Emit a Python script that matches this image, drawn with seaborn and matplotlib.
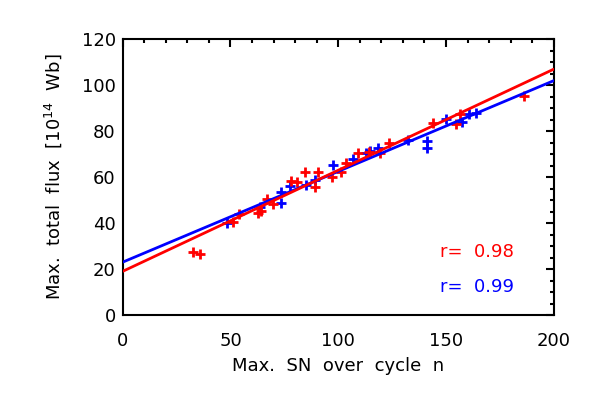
import numpy as np
import pandas as pd
import matplotlib
matplotlib.use("Agg")
import matplotlib.pyplot as plt
import seaborn as sns
from matplotlib.ticker import MultipleLocator

# Red series (max SN, max total flux)
red_sn = [32.5, 35.8, 51, 54, 63, 64.4, 67, 69.8, 78.3, 81, 84.5, 89.2, 90.7,
          96.9, 101.5, 103.8, 109.2, 114.3, 119.3, 123.5, 143.8, 154.8, 156.6, 186]
red_flux = [27.3, 26.4, 40.6, 44, 44.5, 45.3, 50.7, 48.5, 58.4, 58, 62.3, 55.8, 62.3,
            60.1, 62.3, 66, 70.3, 71, 70.5, 74.9, 83.6, 83.2, 87.3, 95.2]

# Blue series
blue_sn = [48.5, 63.6, 73.4, 73.5, 77.6, 85, 89.2, 97.6, 107, 112.8, 114.7, 118.5,
           132.4, 141.4, 141.4, 150, 157.3, 160.5, 164]
blue_flux = [39.9, 47, 48.6, 53.6, 56, 56.5, 58.7, 65.5, 68, 70.3, 71.3, 72.5,
             76, 75.8, 72.5, 85.2, 84, 87.7, 88]

# Linear fit parameters (intercept, slope)
red_fit = (19.0, 0.44)
blue_fit = (23.0, 0.395)
fit_range = [0, 200]

r_labels = ["r=  0.98", "r=  0.99"]

sns.set_style("white")
plt.rcParams['font.family'] = ['DejaVu Sans']
plt.rcParams['text.color'] = 'black'
plt.rcParams['axes.labelcolor'] = 'black'

fig = plt.figure(figsize=(5.91, 3.93), dpi=100)
ax = fig.add_axes([0.2076, 0.1985, 0.937 - 0.2076, 0.9 - 0.1985])

RED = "#ff0000"
BLUE = "#0000ff"
FS = 13

df_red = pd.DataFrame({"sn": red_sn, "flux": red_flux})
df_blue = pd.DataFrame({"sn": blue_sn, "flux": blue_flux})

sns.scatterplot(data=df_blue, x="sn", y="flux", marker="+", s=60, color=BLUE,
                linewidth=2, ax=ax, zorder=3)
sns.scatterplot(data=df_red, x="sn", y="flux", marker="+", s=60, color=RED,
                linewidth=2, ax=ax, zorder=3)

xs = np.array(fit_range, dtype=float)
sns.lineplot(x=xs, y=blue_fit[0] + blue_fit[1] * xs, color=BLUE, linewidth=2, ax=ax, zorder=4)
sns.lineplot(x=xs, y=red_fit[0] + red_fit[1] * xs, color=RED, linewidth=2, ax=ax, zorder=5)

ax.set_xlim(0, 200)
ax.set_ylim(0, 120)
ax.xaxis.set_major_locator(MultipleLocator(50))
ax.xaxis.set_minor_locator(MultipleLocator(10))
ax.yaxis.set_major_locator(MultipleLocator(20))
ax.yaxis.set_minor_locator(MultipleLocator(5))
ax.tick_params(which="both", direction="in", top=True, right=True, width=1.5,
               labelsize=FS, colors="black")
ax.tick_params(which="major", length=6)
ax.tick_params(which="minor", length=3)
ax.tick_params(axis="x", which="major", pad=12.5)
ax.tick_params(axis="y", which="major", pad=5)
for s in ax.spines.values():
    s.set_linewidth(1.5)
    s.set_color("black")

ax.set_xlabel("Max.  SN  over  cycle  n", fontsize=FS, labelpad=5)
ax.set_ylabel("Max.  total  flux  [10$^{14}$  Wb]", fontsize=FS, labelpad=13)

ax.text(147.2, 27.5, r_labels[0], color=RED, fontsize=FS, va="center", ha="left")
ax.text(147.2, 12.3, r_labels[1], color=BLUE, fontsize=FS, va="center", ha="left")

fig.savefig("out.png", dpi=100)
